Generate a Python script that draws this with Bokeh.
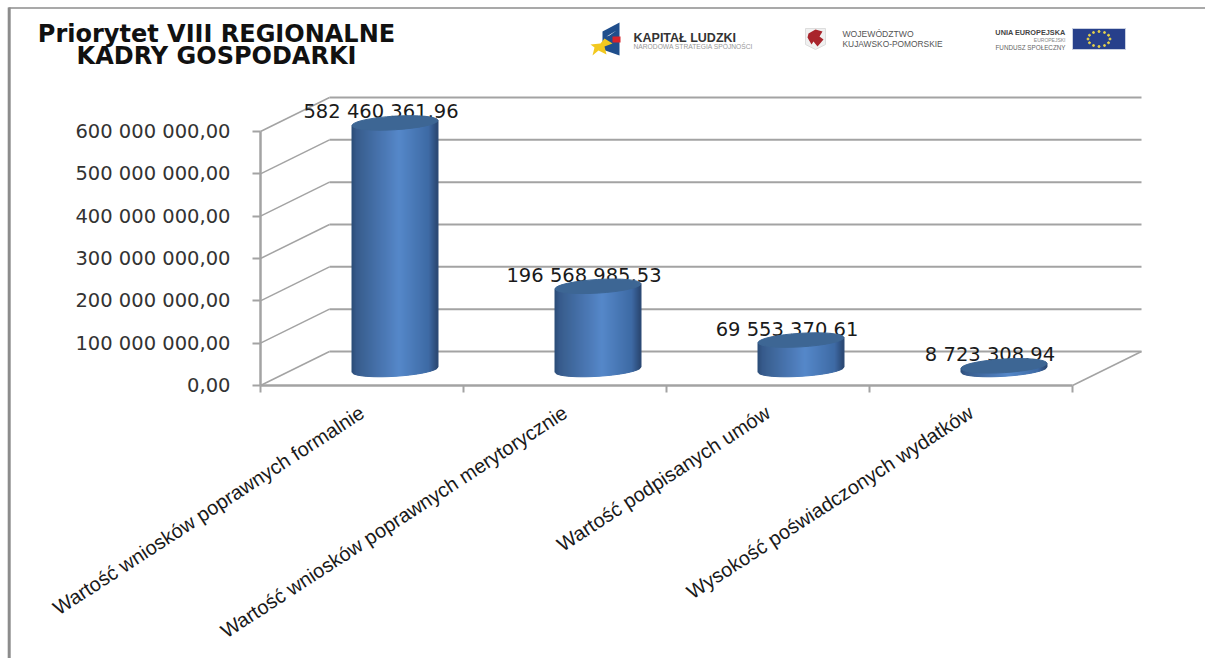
import numpy as np
from bokeh.plotting import figure
from bokeh.models import Range1d, LinearAxis, FixedTicker, Label, Ellipse
from bokeh.core.properties import value
from bokeh.embed import file_html
from bokeh.resources import INLINE

categories = ["Wartość wniosków poprawnych formalnie",
              "Wartość wniosków poprawnych merytorycznie",
              "Wartość podpisanych umów",
              "Wysokość poświadczonych wydatków"]
values = [582460361.96, 196568985.53, 69553370.61, 8723308.94]
value_labels = ["582 460 361,96", "196 568 985,53", "69 553 370,61", "8 723 308,94"]
y_ticks = [0, 100000000, 200000000, 300000000, 400000000, 500000000, 600000000]
y_labels = ["0,00", "100 000 000,00", "200 000 000,00", "300 000 000,00",
            "400 000 000,00", "500 000 000,00", "600 000 000,00"]
title_lines = ["Priorytet VIII REGIONALNE", "KADRY GOSPODARKI"]

# Page geometry in px
W, H = 1205, 658
X0, PX_CAT = 260.0, 203.0          # x of category 0, px per category
Y0, PX_VAL = 385.0, 254.0 / 600e6  # y of value 0, px per unit
DX, DY = 69.0, 34.0                # depth of the 3D box in px
def u2px(px): return (px - X0) / PX_CAT
def v2px(py): return (Y0 - py) / PX_VAL

p = figure(width=W, height=H, output_backend="svg", toolbar_location=None,
           x_range=Range1d(u2px(0), u2px(W)), y_range=Range1d(v2px(H), v2px(0)),
           x_axis_type=None, y_axis_type=None, min_border=0, outline_line_color=None)
p.grid.visible = False

# outer frame
GR = "#8c8c8c"
p.line([u2px(8.7), u2px(8.7)], [v2px(658), v2px(7)], line_color=GR, line_width=3)
p.line([u2px(8), u2px(1205)], [v2px(7.5), v2px(7.5)], line_color=GR, line_width=1.5)

# 3D box lines, derived from the value ticks
dxu, dyv = DX / PX_CAT, DY / PX_VAL
LINE = "#a3a3a3"
tk = np.array(y_ticks, float)
p.segment(x0=np.full(7, dxu), y0=tk + dyv, x1=np.full(7, 4 + dxu), y1=tk + dyv, line_color=LINE, line_width=2)
p.segment(x0=np.zeros(7), y0=tk, x1=np.full(7, dxu), y1=tk + dyv, line_color=LINE, line_width=1.5)
p.segment(x0=[4], y0=[0], x1=[4 + dxu], y1=[dyv], line_color=LINE, line_width=1.5)

# axes
xa = LinearAxis(fixed_location=0, bounds=(0, 4),
                ticker=FixedTicker(ticks=[0.5, 1.5, 2.5, 3.5], minor_ticks=[0, 1, 2, 3, 4]),
                major_label_overrides={i + 0.5: c for i, c in enumerate(categories)},
                major_label_orientation=np.radians(33), major_label_text_font="Liberation Sans",
                major_label_text_font_size="20px", major_label_text_color="#1a1a1a",
                major_tick_line_color=None, major_label_standoff=18,
                minor_tick_in=0, minor_tick_out=7, minor_tick_line_color=LINE, minor_tick_line_width=2,
                axis_line_color=LINE, axis_line_width=2.5)
p.add_layout(xa, "below")
ya = LinearAxis(fixed_location=0, bounds=(0, 600e6), ticker=FixedTicker(ticks=y_ticks),
                major_label_overrides={t: l for t, l in zip(y_ticks, y_labels)},
                major_label_text_font="DejaVu Sans", major_label_text_font_size="19.5px",
                major_label_text_color="#333333", major_label_standoff=22,
                major_tick_in=0, major_tick_out=8, major_tick_line_color=LINE, major_tick_line_width=2,
                minor_tick_line_color=None, axis_line_color=LINE, axis_line_width=2.5)
p.add_layout(ya, "left")

# value labels sit behind the cylinders
cx = np.arange(4) + 0.5 + (DX / 2 - 1.5) / PX_CAT
base = 16 / PX_VAL
p.text(x=cx, y=np.array(values) + base, text=value_labels, text_font=value("DejaVu Sans"),
       text_font_size="19.5px", text_color="#1a1a1a", text_align="center", text_baseline="middle",
       x_offset=-14, y_offset=-11)

# cylinders: vertical strips of a shaded body, tilted ellipses at both ends
RX, RY, TILT = 43.0, 6.8, 2.6 / 43.0
stops = np.array([[0, 42, 76, 120], [0.06, 56, 92, 140], [0.55, 86, 136, 202], [0.9, 62, 106, 164], [1, 42, 72, 112]])
N = 43
for c, v in zip(cx, values):
    xs_strip, ys_strip, cols = [], [], []
    for i in range(N):
        t0, t1 = i / N, (i + 1) / N
        rel = np.linspace(t0, t1, 3) * 2 - 1
        down = RY * np.sqrt(1 - rel ** 2) - TILT * RX * rel
        up = -TILT * RX * rel
        px_x = rel * RX
        xs = list(c + px_x / PX_CAT) + list(c + px_x[::-1] / PX_CAT)
        ys = list(base - down / PX_VAL) + list(base + v - up[::-1] / PX_VAL)
        xs_strip.append(xs)
        ys_strip.append(ys)
        tm = (t0 + t1) / 2
        rgb = [int(np.interp(tm, stops[:, 0], stops[:, k])) for k in (1, 2, 3)]
        cols.append("#%02x%02x%02x" % tuple(rgb))
    p.patches(xs_strip, ys_strip, fill_color=cols, line_color=cols, line_width=1)
    p.add_glyph(Ellipse(x=c, y=base + v, width=2 * RX / PX_CAT, height=2 * RY / PX_VAL,
                        angle=np.arctan(TILT), fill_color="#3d6694", line_color="#3d6694"))

# title
for line, ty in zip(title_lines, [33, 55]):
    p.add_layout(Label(x=u2px(216), y=v2px(ty), text=line, text_font="DejaVu Sans", text_font_style="bold",
                       text_font_size="24px", text_align="center", text_baseline="middle", text_color="#111111"))

# logos
def txt(px, py, s, size, col="#555555", bold=False, align="left"):
    p.add_layout(Label(x=u2px(px), y=v2px(py), text=s, text_font="Liberation Sans",
                       text_font_style="bold" if bold else "normal", text_font_size=f"{size}px",
                       text_align=align, text_baseline="middle", text_color=col))
p.patch([u2px(v) for v in (602, 619, 619, 602)], [v2px(v) for v in (31, 22, 55, 49)], fill_color="#1f4e8c", line_color=None)
p.patch([u2px(v) for v in (590, 600, 604, 612, 604, 606, 598, 592, 594)], [v2px(v) for v in (44, 43, 38, 43, 46, 54, 50, 55, 47)],
        fill_color="#f2c81e", line_color=None)
p.patch([u2px(v) for v in (612, 620, 620, 612)], [v2px(v) for v in (36, 36, 42, 42)], fill_color="#d8232a", line_color=None)
p.patch([u2px(v) for v in (606, 616, 609)], [v2px(v) for v in (36, 30, 35)], fill_color="#ffffff", line_color=None)
txt(633, 37, "KAPITAŁ LUDZKI", 12.5, "#333333", True)
txt(633, 45.5, "NARODOWA STRATEGIA SPÓJNOŚCI", 6.7, "#999999")
p.patch([u2px(v) for v in (805, 825, 825, 815, 805)], [v2px(v) for v in (28, 28, 44, 49, 44)], fill_color="#f0f0f0", line_color="#dddddd")
p.patch([u2px(v) for v in (808, 815, 822, 819, 823, 817, 813, 811, 807)], [v2px(v) for v in (33, 29, 31, 36, 39, 46, 41, 44, 37)],
        fill_color="#a9252c", line_color=None)
txt(842, 33, "WOJEWÓDZTWO", 8.6, "#555555")
txt(842, 43, "KUJAWSKO-POMORSKIE", 8.4, "#555555")
txt(1065, 32, "UNIA EUROPEJSKA", 7.3, "#444444", True, "right")
txt(1065, 39.5, "EUROPEJSKI", 5, "#888888", False, "right")
txt(1065, 47, "FUNDUSZ SPOŁECZNY", 6.3, "#666666", False, "right")
p.quad(left=u2px(1072), right=u2px(1125), bottom=v2px(49), top=v2px(28), fill_color="#27408b", line_color="#c8cfe0")
ang = np.arange(12) * np.pi / 6
p.scatter(u2px(1098.5) + 11 * np.cos(ang) / PX_CAT, v2px(38.5) + 7.5 * np.sin(ang) / PX_VAL, size=2, color="#e8d44a", marker="circle")

open("out.html", "w").write(file_html(p, INLINE))
